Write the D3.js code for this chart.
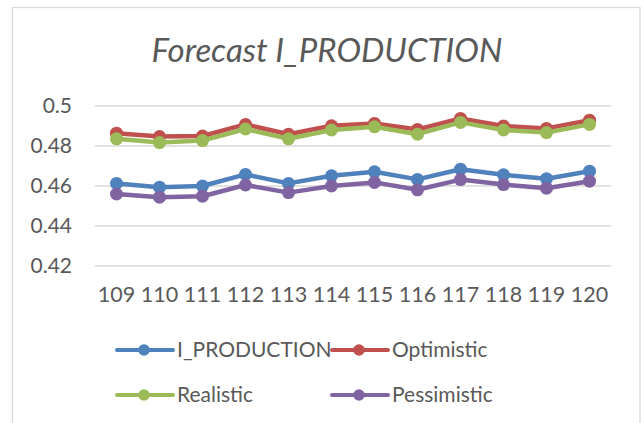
<!DOCTYPE html>
<html>
<head>
<meta charset="utf-8">
<script src="https://cdn.jsdelivr.net/npm/d3@7"></script>
<style>
  html, body { margin: 0; padding: 0; background: #fff; }
  #chart { width: 644px; height: 423px; }
</style>
</head>
<body>
<div id="chart"></div>
<script>
// data
const categories = ["109", "110", "111", "112", "113", "114", "115", "116", "117", "118", "119", "120"];
const iProduction = [0.4613, 0.4594, 0.4600, 0.4658, 0.4613, 0.4651, 0.4671, 0.4633, 0.4684, 0.4656, 0.4636, 0.4674];
const optimistic = [0.4864, 0.4847, 0.4850, 0.4908, 0.4859, 0.4901, 0.4913, 0.4883, 0.4938, 0.4900, 0.4888, 0.4929];
const realistic = [0.4836, 0.4817, 0.4827, 0.4885, 0.4836, 0.4880, 0.4896, 0.4859, 0.4918, 0.4880, 0.4867, 0.4908];
const pessimistic = [0.4560, 0.4544, 0.4549, 0.4605, 0.4567, 0.4600, 0.4618, 0.4581, 0.4632, 0.4607, 0.4589, 0.4624];
const yTicks = [0.42, 0.44, 0.46, 0.48, 0.5];
const seriesNames = ["I_PRODUCTION", "Optimistic", "Realistic", "Pessimistic"];

const series = [
  { name: seriesNames[0], values: iProduction, color: "#4f81bd" },
  { name: seriesNames[1], values: optimistic, color: "#c0504d" },
  { name: seriesNames[2], values: realistic, color: "#9bbb59" },
  { name: seriesNames[3], values: pessimistic, color: "#8064a2" },
];

const svgWidth = 644;
const svgHeight = 423;
const font = "Lato, 'Open Sans', sans-serif";
const textColor = "#595959";

const svg = d3.select("#chart")
  .append("svg")
  .attr("width", svgWidth)
  .attr("height", svgHeight)
  .style("background", "#fff");

// chart area border (bottom edge falls outside the picture)
svg.append("rect")
  .attr("x", 12.5)
  .attr("y", 7.5)
  .attr("width", 627.5)
  .attr("height", 430)
  .attr("fill", "#fff")
  .attr("stroke", "#d9d9d9")
  .attr("stroke-width", 1.3);

// title
svg.append("text")
  .attr("x", 327)
  .attr("y", 62)
  .attr("text-anchor", "middle")
  .attr("font-family", font)
  .attr("font-style", "italic")
  .attr("font-size", 33)
  .attr("fill", textColor)
  .text("Forecast I_PRODUCTION");

// scales
const x = d3.scaleBand().domain(categories).range([95, 611]).padding(0);
const y = d3.scaleLinear().domain([0.42, 0.5]).range([266, 106]);
const cx = (c) => x(c) + x.bandwidth() / 2;

// gridlines
svg.append("g")
  .selectAll("line")
  .data(yTicks)
  .join("line")
  .attr("x1", x.range()[0])
  .attr("x2", x.range()[1])
  .attr("y1", (d) => y(d))
  .attr("y2", (d) => y(d))
  .attr("stroke", "#d9d9d9")
  .attr("stroke-width", 1.3);

// y axis labels (no axis line)
const yAxis = svg.append("g")
  .attr("transform", "translate(72,0)")
  .call(d3.axisLeft(y).tickValues(yTicks).tickSize(0).tickPadding(0).tickFormat((d) => String(+d.toFixed(2))));
yAxis.select(".domain").remove();
yAxis.selectAll("text")
  .attr("font-family", font)
  .attr("font-size", 21)
  .attr("fill", textColor);

// x axis labels
const xAxis = svg.append("g")
  .attr("transform", "translate(0,287)")
  .call(d3.axisBottom(x).tickSize(0).tickPadding(0));
xAxis.select(".domain").remove();
xAxis.selectAll("text")
  .attr("font-family", font)
  .attr("font-size", 21.5)
  .attr("fill", textColor);

// lines + markers
const line = d3.line()
  .x((d, i) => cx(categories[i]))
  .y((d) => y(d));

series.forEach((s) => {
  const g = svg.append("g");
  g.append("path")
    .attr("d", line(s.values))
    .attr("fill", "none")
    .attr("stroke", s.color)
    .attr("stroke-width", 4.5)
    .attr("stroke-linejoin", "round")
    .attr("stroke-linecap", "round");
  g.selectAll("circle")
    .data(s.values)
    .join("circle")
    .attr("cx", (d, i) => cx(categories[i]))
    .attr("cy", (d) => y(d))
    .attr("r", 6.5)
    .attr("fill", s.color);
});

// legend: 2 columns x 2 rows
const legend = svg.append("g")
  .selectAll("g")
  .data(series)
  .join("g")
  .attr("transform", (d, i) => `translate(${117 + (i % 2) * 215}, ${350 + Math.floor(i / 2) * 45})`);

legend.append("line")
  .attr("x1", 0)
  .attr("x2", 56)
  .attr("stroke", (d) => d.color)
  .attr("stroke-width", 4)
  .attr("stroke-linecap", "round");
legend.append("circle")
  .attr("cx", 27)
  .attr("r", 5.8)
  .attr("fill", (d) => d.color);
legend.append("text")
  .attr("x", 60)
  .attr("dy", "0.35em")
  .attr("font-family", font)
  .attr("font-size", 21)
  .attr("fill", textColor)
  .text((d) => d.name);
</script>
</body>
</html>
